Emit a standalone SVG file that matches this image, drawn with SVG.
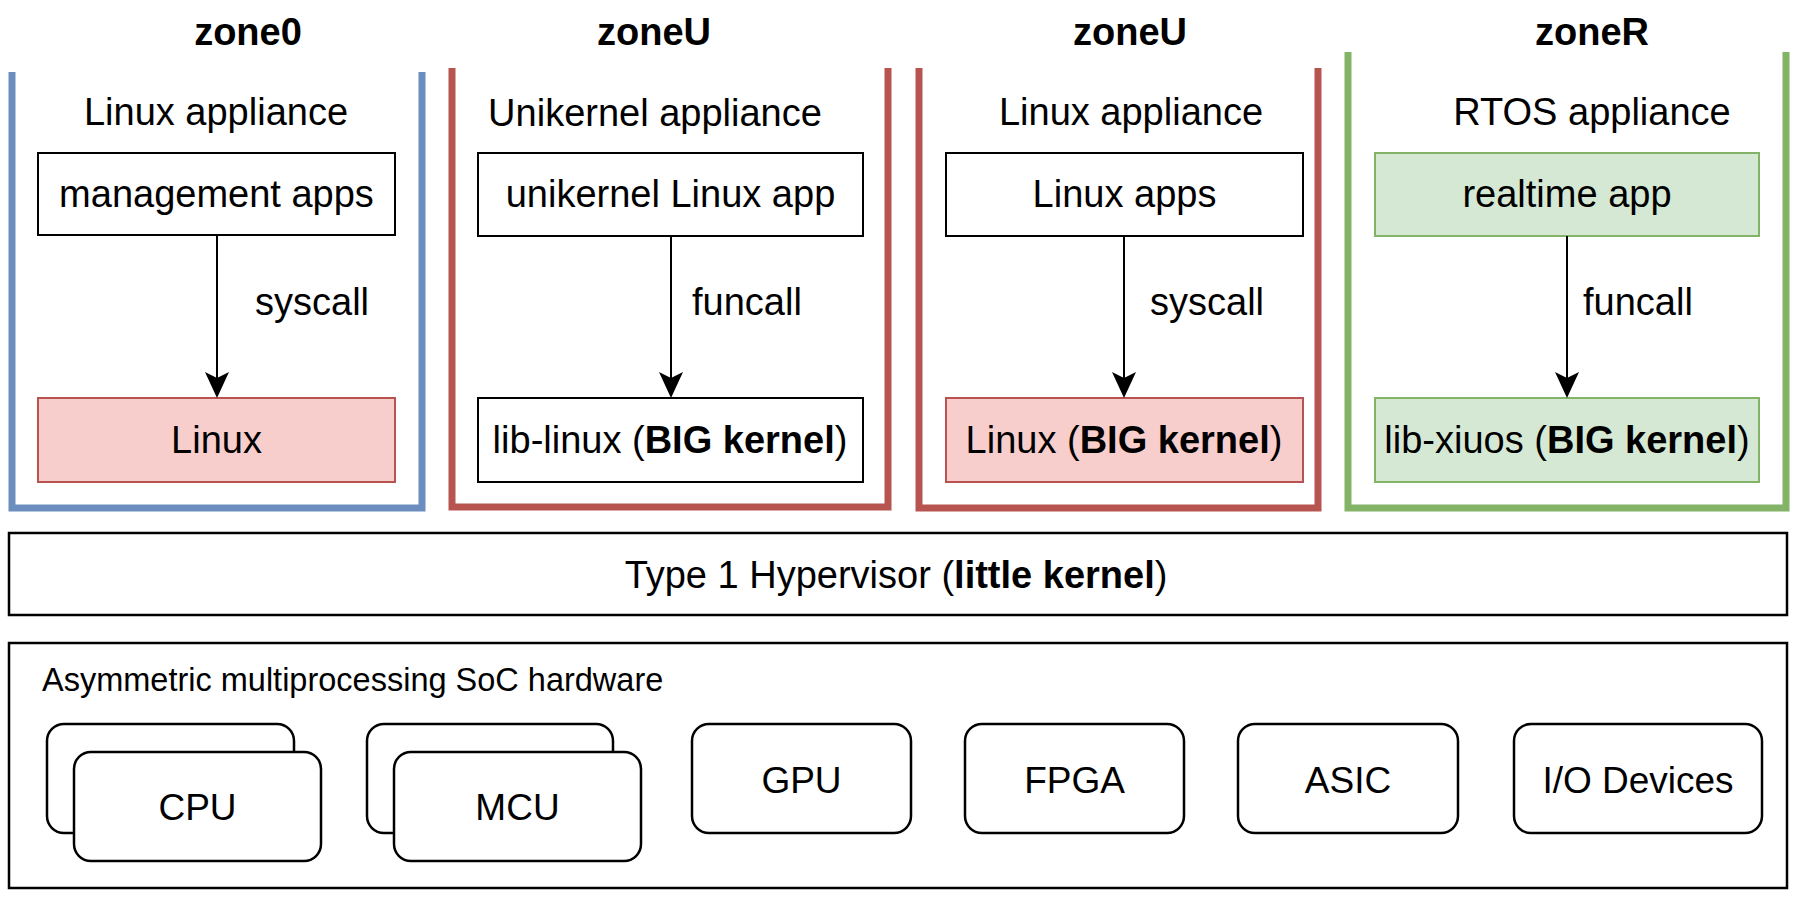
<svg xmlns="http://www.w3.org/2000/svg" width="1800" height="901" viewBox="0 0 1800 901">
<defs>
<style>
text{font-family:"Liberation Sans",Arial,Helvetica,sans-serif;fill:#000;}
.t{font-size:38px;text-anchor:middle;}
.lbl{font-size:38px;}
.hw{font-size:37px;text-anchor:middle;}
.b{font-weight:bold;}
.zone{fill:none;stroke-width:7;}
.box{fill:#fff;stroke:#000;stroke-width:2;}
.red{fill:#f8cecc;stroke:#b85450;stroke-width:2;}
.grn{fill:#d5e8d4;stroke:#82b366;stroke-width:2;}
.frame{fill:#fff;stroke:#000;stroke-width:2.5;}
.rb{fill:#fff;stroke:#000;stroke-width:2.5;}
.conn{stroke:#000;stroke-width:2;fill:none;}
</style>
<marker id="arr" markerUnits="userSpaceOnUse" markerWidth="28" markerHeight="26" refX="20" refY="12" orient="auto">
<path d="M0,0 L26,12 L0,24 L6,12 Z" fill="#000"/>
</marker>
</defs>
<rect width="1800" height="901" fill="#fff"/>

<g id="zone0">
<path class="zone" stroke="#6c8ebf" d="M12,72 V508 H422 V72"/>
<text class="t b" x="248" y="45">zone0</text>
<text class="t" x="216" y="125">Linux appliance</text>
<g id="z0-apps"><rect class="box" x="38" y="153" width="357" height="82"/><text class="t" x="216.5" y="207">management apps</text></g>
<g id="z0-linux"><rect class="red" x="38" y="398" width="357" height="84"/><text class="t" x="216.5" y="453">Linux</text></g>
</g>

<g id="zoneU1">
<path class="zone" stroke="#b85450" d="M452,68 V507 H888 V68"/>
<text class="t b" x="654" y="45">zoneU</text>
<text class="t" x="655" y="126">Unikernel appliance</text>
<g id="u1-app"><rect class="box" x="478" y="153" width="385" height="83"/><text class="t" x="670.5" y="207">unikernel Linux app</text></g>
<g id="u1-lib"><rect class="box" x="478" y="398" width="385" height="84"/><text class="t" x="670" y="453">lib-linux (<tspan class="b">BIG kernel</tspan>)</text></g>
</g>

<g id="zoneU2">
<path class="zone" stroke="#b85450" d="M919,68 V508 H1318 V68"/>
<text class="t b" x="1130" y="45">zoneU</text>
<text class="t" x="1131" y="125">Linux appliance</text>
<g id="u2-apps"><rect class="box" x="946" y="153" width="357" height="83"/><text class="t" x="1124.5" y="207">Linux apps</text></g>
<g id="u2-linux"><rect class="red" x="946" y="398" width="357" height="84"/><text class="t" x="1124" y="453">Linux (<tspan class="b">BIG kernel</tspan>)</text></g>
</g>

<g id="zoneR">
<path class="zone" stroke="#82b366" d="M1348,52 V508 H1786 V52"/>
<text class="t b" x="1592" y="45">zoneR</text>
<text class="t" x="1592" y="125">RTOS appliance</text>
<g id="r-app"><rect class="grn" x="1375" y="153" width="384" height="83"/><text class="t" x="1567" y="207">realtime app</text></g>
<g id="r-lib"><rect class="grn" x="1375" y="398" width="384" height="84"/><text class="t" x="1567" y="453">lib-xiuos (<tspan class="b">BIG kernel</tspan>)</text></g>
</g>

<g id="hypervisor">
<rect class="frame" x="9" y="533" width="1778" height="82"/>
<text class="t" x="896" y="588">Type 1 Hypervisor (<tspan class="b">little kernel</tspan>)</text>
</g>

<g id="hardware">
<rect class="frame" x="9" y="643" width="1778" height="245"/>
<text x="42" y="691" style="font-size:32.5px">Asymmetric multiprocessing SoC hardware</text>
<g id="cpu">
<rect class="rb" x="47" y="724" width="247" height="109" rx="17"/>
<rect class="rb" x="74" y="752" width="247" height="109" rx="17"/>
<text class="hw" x="197.5" y="820">CPU</text>
</g>
<g id="mcu">
<rect class="rb" x="367" y="724" width="246" height="109" rx="17"/>
<rect class="rb" x="394" y="752" width="247" height="109" rx="17"/>
<text class="hw" x="517.5" y="820">MCU</text>
</g>
<g id="gpu"><rect class="rb" x="692" y="724" width="219" height="109" rx="17"/><text class="hw" x="801.5" y="793">GPU</text></g>
<g id="fpga"><rect class="rb" x="965" y="724" width="219" height="109" rx="17"/><text class="hw" x="1074.5" y="793">FPGA</text></g>
<g id="asic"><rect class="rb" x="1238" y="724" width="220" height="109" rx="17"/><text class="hw" x="1348" y="793">ASIC</text></g>
<g id="io"><rect class="rb" x="1514" y="724" width="248" height="109" rx="17"/><text class="hw" x="1638" y="793">I/O Devices</text></g>
</g>

<g id="connectors">
<line class="conn" x1="217" y1="235" x2="217" y2="392" marker-end="url(#arr)"/>
<text class="lbl" x="255" y="315">syscall</text>
<line class="conn" x1="671" y1="236" x2="671" y2="392" marker-end="url(#arr)"/>
<text class="lbl" x="692" y="315">funcall</text>
<line class="conn" x1="1124" y1="236" x2="1124" y2="392" marker-end="url(#arr)"/>
<text class="lbl" x="1150" y="315">syscall</text>
<line class="conn" x1="1567" y1="236" x2="1567" y2="392" marker-end="url(#arr)"/>
<text class="lbl" x="1583" y="315">funcall</text>
</g>
</svg>
